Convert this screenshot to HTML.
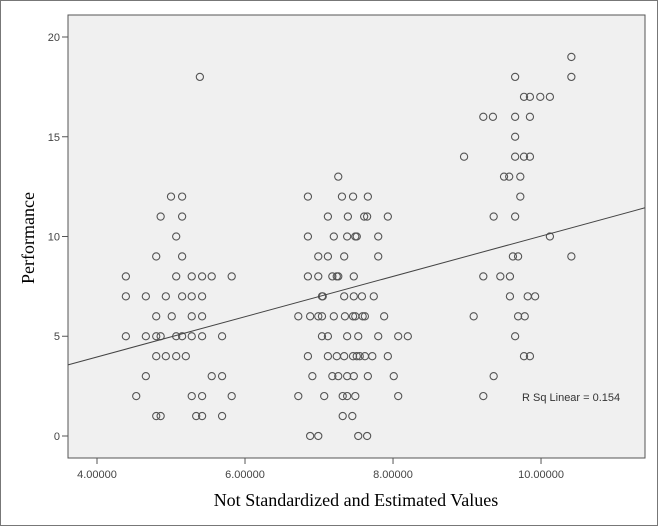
<!DOCTYPE html>
<html><head><meta charset="utf-8"><style>
html,body{margin:0;padding:0;background:#fff;}
svg{display:block;}
</style></head><body>
<svg id="chart" width="659" height="527" xmlns="http://www.w3.org/2000/svg">
<rect x="0.5" y="0.5" width="657" height="525" fill="#fff" stroke="#777" stroke-width="1"/>
<rect x="68" y="15" width="577" height="443" fill="#f0f0f0" stroke="#555" stroke-width="1"/>
<g id="yaxis"></g>
<g id="xaxis"></g>
<g id="pts"></g>
<text transform="translate(34,238) rotate(-90)" text-anchor="middle" font-family="Liberation Serif, serif" font-size="18" fill="#000">Performance</text>
<text x="356" y="506" text-anchor="middle" font-family="Liberation Serif, serif" font-size="18" fill="#000">Not Standardized and Estimated Values</text>
<text x="522" y="401" font-family="Liberation Sans, sans-serif" font-size="11" fill="#333">R Sq Linear = 0.154</text>
</svg>
<script>
const xTicks = [4, 6, 8, 10];
const xTickLabels = ["4.00000", "6.00000", "8.00000", "10.00000"];
const yTicks = [0, 5, 10, 15, 20];
const yTickLabels = ["0", "5", "10", "15", "20"];
const fitSlope = 1.01;
const fitIntercept = -0.08;
const xVals = [
5.39, 5.00,5.15, 4.86,5.15, 5.07, 4.80,5.15,
4.39,5.07,5.28,5.42,5.55,5.82,
4.39,4.66,4.93,5.15,5.28,5.42,
4.80,5.01,5.28,5.42,
4.39,4.66,4.80,4.86,5.07,5.15,5.28,5.42,5.69,
4.80,4.93,5.07,5.20,
4.66,5.55,5.69,
4.53,5.28,5.42,5.82,
4.80,4.86,5.34,5.42,5.69,
7.26,
6.85,7.31,7.46,7.66,
7.12,7.39,7.61,7.65,7.93,
6.85,7.20,7.38,7.49,7.51,7.80,
6.99,7.12,7.34,7.80,
6.85,6.99,7.18,7.24,7.26,7.47,
7.04,7.05,7.34,7.47,7.58,7.74,
6.72,6.88,6.99,7.04,7.20,7.35,7.46,7.49,7.59,7.62,7.88,
7.04,7.12,7.38,7.53,7.80,8.07,8.20,
6.85,7.12,7.24,7.34,7.46,7.51,7.55,7.62,7.72,7.93,
6.91,7.18,7.26,7.38,7.47,7.66,8.01,
6.72,7.07,7.32,7.38,7.49,8.07,
7.32,7.45,
6.88,6.99,7.53,7.65,
10.41,
9.65,10.41,
9.77,9.85,9.99,10.12,
9.22,9.35,9.65,9.85,
9.65,
8.96,9.65,9.77,9.85,
9.50,9.57,9.72,
9.72,
9.36,9.65,
10.12,
9.62,9.69,10.41,
9.22,9.45,9.58,
9.58,9.82,9.92,
9.09,9.69,9.78,
9.65,
9.77,9.85,
9.36,
9.22
];
const yVals = [
18, 12,12, 11,11, 10, 9,9,
8,8,8,8,8,8,
7,7,7,7,7,7,
6,6,6,6,
5,5,5,5,5,5,5,5,5,
4,4,4,4,
3,3,3,
2,2,2,2,
1,1,1,1,1,
13,
12,12,12,12,
11,11,11,11,11,
10,10,10,10,10,10,
9,9,9,9,
8,8,8,8,8,8,
7,7,7,7,7,7,
6,6,6,6,6,6,6,6,6,6,6,
5,5,5,5,5,5,5,
4,4,4,4,4,4,4,4,4,4,
3,3,3,3,3,3,3,
2,2,2,2,2,2,
1,1,
0,0,0,0,
19,
18,18,
17,17,17,17,
16,16,16,16,
15,
14,14,14,14,
13,13,13,
12,
11,11,
10,
9,9,9,
8,8,8,
7,7,7,
6,6,6,
5,
4,4,
3,
2
];
const NS = "http://www.w3.org/2000/svg";
const X0 = 68, X1 = 645, Y0 = 15, Y1 = 458;
const xMin = 3.608, xMax = 11.405, yMin = -1.103, yMax = 21.103;
function sx(v){ return X0 + (v - xMin) / (xMax - xMin) * (X1 - X0); }
function sy(v){ return Y1 - (v - yMin) / (yMax - yMin) * (Y1 - Y0); }
function mk(tag, attrs, parent){ const e = document.createElementNS(NS, tag); for (const k in attrs) e.setAttribute(k, attrs[k]); parent.appendChild(e); return e; }

const yg = document.getElementById('yaxis');
yTicks.forEach((t, i) => {
  const y = sy(t);
  const tk = mk('line', {x1: X0 - 6, x2: X0, y1: y, y2: y, stroke: '#555', 'stroke-width': 1}, yg);
  
  
  const lb = mk('text', {x: X0 - 8, y: y + 4, 'text-anchor': 'end', 'font-family': 'Liberation Sans, sans-serif', 'font-size': 11, fill: '#444'}, yg);
  lb.textContent = yTickLabels[i];
  
  
});
const xg = document.getElementById('xaxis');
xTicks.forEach((t, i) => {
  const x = sx(t);
  const tk = mk('line', {x1: x, x2: x, y1: Y1, y2: Y1 + 6, stroke: '#555', 'stroke-width': 1}, xg);
  
  
  const lb = mk('text', {x: x, y: Y1 + 20, 'text-anchor': 'middle', 'font-family': 'Liberation Sans, sans-serif', 'font-size': 11, fill: '#444'}, xg);
  lb.textContent = xTickLabels[i];
  
  
});
const pg = document.getElementById('pts');
for (let i = 0; i < xVals.length; i++) {
  const c = mk('circle', {cx: sx(xVals[i]), cy: sy(yVals[i]), r: 3.6, fill: 'none', stroke: '#555', 'stroke-width': 1.1}, pg);
  
  
}
const fit = mk('line', {x1: sx(xMin), y1: sy(fitIntercept + fitSlope * xMin), x2: sx(xMax), y2: sy(fitIntercept + fitSlope * xMax), stroke: '#444', 'stroke-width': 1}, document.getElementById('chart'));


</script>
</body></html>
